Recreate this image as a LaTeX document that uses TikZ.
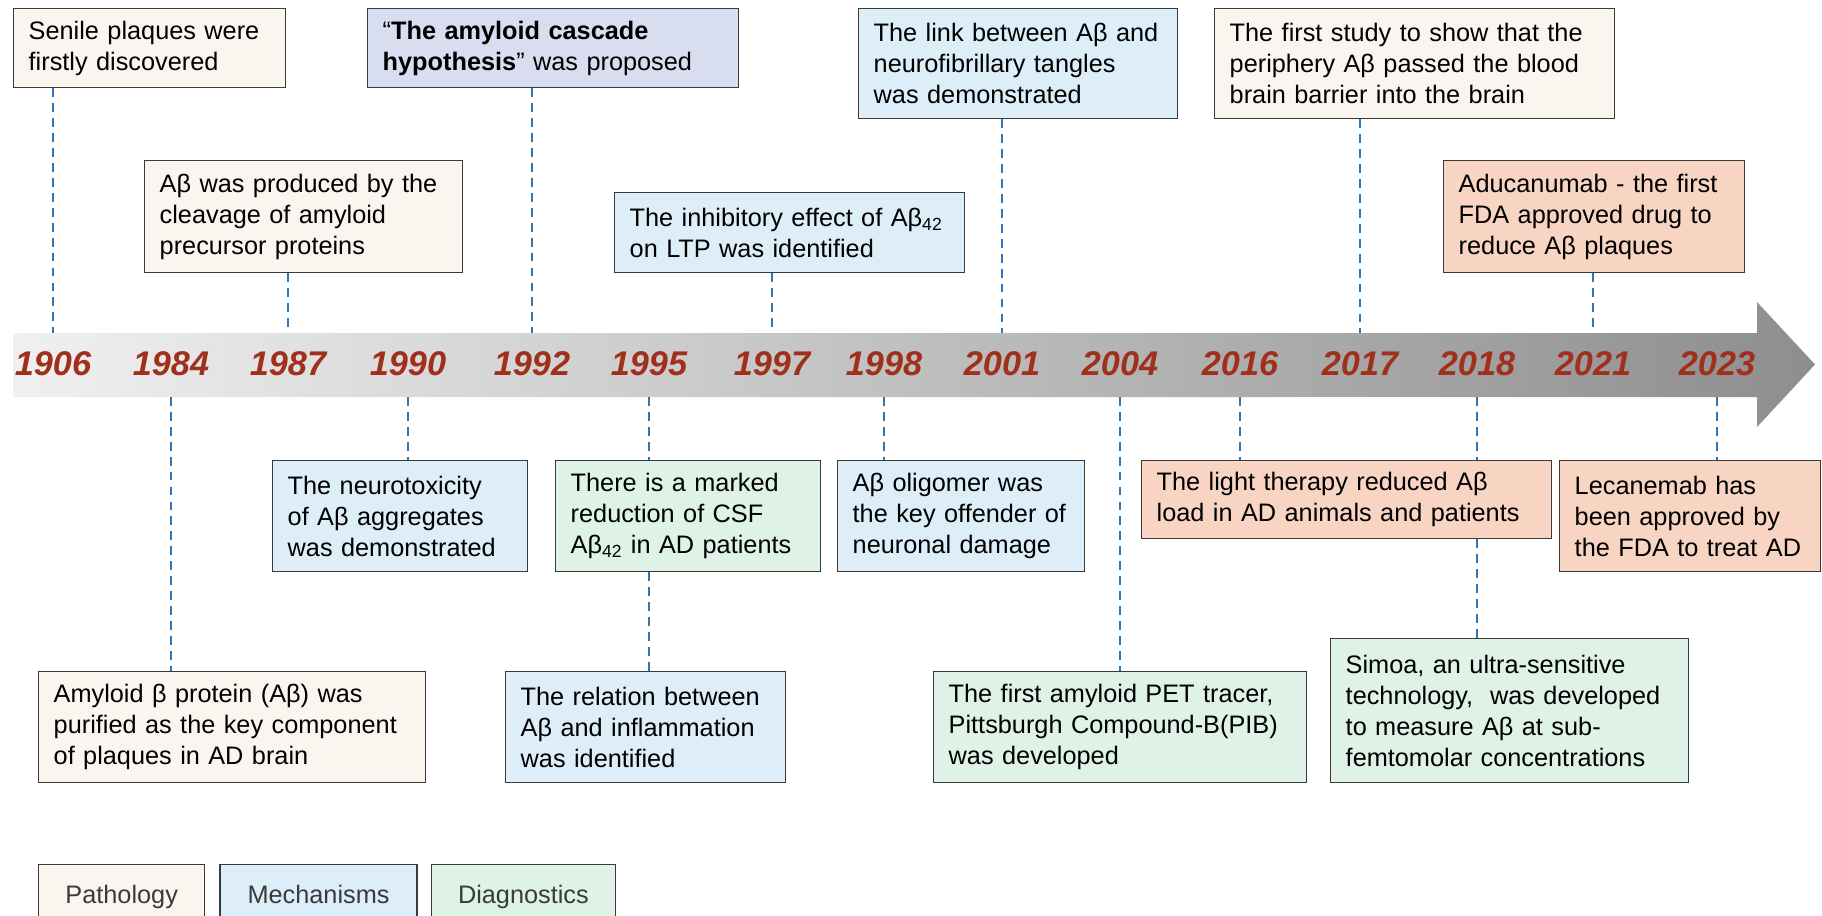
\documentclass[tikz,border=0pt]{standalone}
\usepackage{fontspec}
\setmainfont{Liberation Sans}
\usetikzlibrary{positioning}
\definecolor{patho}{HTML}{FBF5EF}
\definecolor{mecha}{HTML}{DDEEF9}
\definecolor{diagno}{HTML}{DEF2E7}
\definecolor{hypo}{HTML}{D9DDF0}
\definecolor{therapy}{HTML}{F8D4C3}
\definecolor{boxline}{HTML}{3A3A3A}
\definecolor{guideblue}{HTML}{2E75B6}
\definecolor{yearred}{HTML}{A0301C}
\definecolor{bandleft}{HTML}{F0F0F0}
\definecolor{bandright}{HTML}{8E8E8E}

\begin{document}
\begin{tikzpicture}[x=0.02cm, y=-0.02cm,
    event/.style={draw=boxline, line width=0.8pt, anchor=north west, align=left, inner xsep=0.3cm, inner ysep=0pt, font=\fontsize{14.4}{17.6}\selectfont},
    keybox/.style={draw=boxline, line width=0.8pt, anchor=north west, minimum height=1.3cm, text height=0.36cm, text depth=0.1cm, text=boxline, font=\fontsize{14.4}{17.6}\selectfont},
    year/.style={font=\fontsize{19.5}{22}\selectfont\bfseries\itshape, text=yearred},
    guide/.style={draw=guideblue, line width=0.85pt, dash pattern=on 5pt off 3.5pt}]

    % Canvas
    \fill[white] (0,0) rectangle (1822,916);
    \useasboundingbox (0,0) rectangle (1822,916);

    % Time arrow
    \shade[left color=bandleft, right color=bandright] (13,333) -- (1757,333) -- (1757,302) -- (1815,364.5) -- (1757,427) -- (1757,397) -- (13,397) -- cycle;

    % Years
    \foreach \yr/\x in {1906/53, 1984/171, 1987/288, 1990/408, 1992/532, 1995/649, 1997/772, 1998/884,
                        2001/1002, 2004/1120, 2016/1240, 2017/1360, 2018/1477, 2021/1593, 2023/1717} {
        \node[year] (y\yr) at (\x,364) {\yr};
        \coordinate (t\yr) at (\x,333);
        \coordinate (b\yr) at (\x,397);
    }

    % Events above the arrow
    \node[event, fill=patho, text width=4.84cm, minimum height=1.58cm] (senile) at (13,8) {Senile plaques were\\firstly discovered};
    \node[event, fill=hypo, text width=6.82cm, minimum height=1.58cm] (cascade) at (367,8) {“\textbf{The amyloid cascade}\\\textbf{hypothesis}” was proposed};
    \node[event, fill=mecha, text width=5.78cm, minimum height=2.2cm] (tangles) at (858,8) {The link between Aβ and\\neurofibrillary tangles\\was demonstrated};
    \node[event, fill=patho, text width=7.4cm, minimum height=2.2cm] (barrier) at (1214,8) {The first study to show that the\\periphery Aβ passed the blood\\brain barrier into the brain};
    \node[event, fill=patho, text width=5.76cm, minimum height=2.24cm] (cleavage) at (144,160) {Aβ was produced by the\\cleavage of amyloid\\precursor proteins};
    \node[event, fill=mecha, text width=6.4cm, minimum height=1.6cm] (ltp) at (614,192) {The inhibitory effect of Aβ\textsubscript{42}\\on LTP was identified};
    \node[event, fill=therapy, text width=5.42cm, minimum height=2.24cm] (aducan) at (1443,160) {Aducanumab - the first\\FDA approved drug to\\reduce Aβ plaques};

    % Events below the arrow
    \node[event, fill=mecha, text width=4.5cm, minimum height=2.22cm] (neurotox) at (272,460) {The neurotoxicity\\of Aβ aggregates\\was demonstrated};
    \node[event, fill=diagno, text width=4.7cm, minimum height=2.22cm] (csf) at (555,460) {There is a marked\\reduction of CSF\\Aβ\textsubscript{42} in AD patients};
    \node[event, fill=mecha, text width=4.34cm, minimum height=2.22cm] (oligomer) at (837,460) {Aβ oligomer was\\the key offender of\\neuronal damage};
    \node[event, fill=therapy, text width=7.6cm, minimum height=1.56cm] (light) at (1141,460) {The light therapy reduced Aβ\\load in AD animals and patients};
    \node[event, fill=therapy, text width=4.62cm, minimum height=2.22cm] (lecan) at (1559,460) {Lecanemab has\\been approved by\\the FDA to treat AD};
    \node[event, fill=patho, text width=7.14cm, minimum height=2.22cm] (purified) at (38,671) {Amyloid β protein (Aβ) was\\purified as the key component\\of plaques in AD brain};
    \node[event, fill=mecha, text width=5.0cm, minimum height=2.22cm] (inflam) at (505,671) {The relation between\\Aβ and inflammation\\was identified};
    \node[event, fill=diagno, text width=6.86cm, minimum height=2.22cm] (pet) at (933,671) {The first amyloid PET tracer,\\Pittsburgh Compound-B(PIB)\\was developed};
    \node[event, fill=diagno, text width=6.56cm, minimum height=2.88cm] (simoa) at (1330,638) {Simoa, an ultra-sensitive\\technology,\ \ was developed\\to measure Aβ at sub-\\femtomolar concentrations};

    % Guides to the arrow
    \draw[guide] (senile.south -| t1906) -- (t1906);
    \draw[guide] (cleavage.south -| t1987) -- (t1987);
    \draw[guide] (cascade.south -| t1992) -- (t1992);
    \draw[guide] (ltp.south -| t1997) -- (t1997);
    \draw[guide] (tangles.south -| t2001) -- (t2001);
    \draw[guide] (barrier.south -| t2017) -- (t2017);
    \draw[guide] (aducan.south -| t2021) -- (t2021);
    \draw[guide] (b1984) -- (purified.north -| b1984);
    \draw[guide] (b1990) -- (neurotox.north -| b1990);
    \draw[guide] (b1995) -- (csf.north -| b1995);
    \draw[guide] (csf.south -| b1995) -- (inflam.north -| b1995);
    \draw[guide] (b1998) -- (oligomer.north -| b1998);
    \draw[guide] (b2004) -- (pet.north -| b2004);
    \draw[guide] (b2016) -- (light.north -| b2016);
    \draw[guide] (b2018) -- (light.north -| b2018);
    \draw[guide] (light.south -| b2018) -- (simoa.north -| b2018);
    \draw[guide] (b2023) -- (lecan.north -| b2023);

    % Legend
    \node[keybox, fill=patho, minimum width=3.32cm] (kpatho) at (38,864) {Pathology};
    \node[keybox, fill=mecha, minimum width=3.94cm, right=0.28cm of kpatho] (kmecha) {Mechanisms};
    \node[keybox, fill=diagno, minimum width=3.68cm, right=0.26cm of kmecha] (kdiagno) {Diagnostics};
\end{tikzpicture}
\end{document}
